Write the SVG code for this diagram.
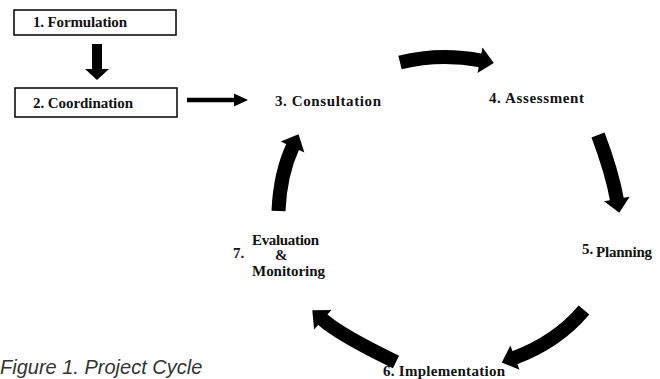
<svg xmlns="http://www.w3.org/2000/svg" width="660" height="379" viewBox="0 0 660 379">
<style>
.box{fill:#fff;stroke:#000;stroke-width:1.5}
.lbl{font-family:"Liberation Serif","Times New Roman",serif;font-weight:bold;font-size:15px;fill:#111}
.arc{fill:none;stroke:#000;stroke-width:14}
.cap{font-family:"Liberation Sans",Arial,sans-serif;font-style:italic;font-size:20px;fill:#333}
</style>
<defs>
<marker id="big" markerUnits="userSpaceOnUse" viewBox="-2 -14 16 28" refX="0" refY="0" markerWidth="16" markerHeight="28" orient="auto" overflow="visible">
<path d="M-1,-13 L13,0 L-1,13 z" fill="#000"/>
</marker>
<marker id="down" markerUnits="userSpaceOnUse" viewBox="-2 -13 13 26" refX="0" refY="0" markerWidth="13" markerHeight="26" orient="auto" overflow="visible">
<path d="M-1,-12 L10,0 L-1,12 z" fill="#000"/>
</marker>
<marker id="thin" markerUnits="userSpaceOnUse" viewBox="-2 -7 16 14" refX="0" refY="0" markerWidth="16" markerHeight="14" orient="auto" overflow="visible">
<path d="M-1,-6.5 L13,0 L-1,6.5 z" fill="#000"/>
</marker>
</defs>
<g id="connectors">
<path d="M97,44 L97,70" stroke="#000" stroke-width="10" fill="none" marker-end="url(#down)"/>
<path d="M187,100 L235,100" stroke="#000" stroke-width="4.5" fill="none" marker-end="url(#thin)"/>
<path class="arc" d="M400,62.5 Q440,52.5 481,60.5" marker-end="url(#big)"/>
<path class="arc" d="M598,135 Q612,172 617,200" marker-end="url(#big)"/>
<path class="arc" d="M584,310 Q557,342 514,358" marker-end="url(#big)"/>
<path class="arc" d="M396,362 Q340,335 322,319" marker-end="url(#big)"/>
<path class="arc" d="M278.5,211 Q280,174 293,146" marker-end="url(#big)"/>
</g>
<g id="n1">
<rect class="box" x="14" y="10" width="162" height="25"/>
<text class="lbl" x="33" y="26.5" textLength="94" lengthAdjust="spacing">1. Formulation</text>
</g>
<g id="n2">
<rect class="box" x="15" y="88" width="162" height="29"/>
<text class="lbl" x="33" y="107.5" textLength="100" lengthAdjust="spacing">2. Coordination</text>
</g>
<g id="n3">
<text class="lbl" x="275" y="106" textLength="106" lengthAdjust="spacing">3. Consultation</text>
</g>
<g id="n4">
<text class="lbl" x="489" y="103" textLength="95" lengthAdjust="spacing">4. Assessment</text>
</g>
<g id="n5">
<text class="lbl"><tspan x="582" y="254">5. </tspan><tspan x="596" y="257" textLength="56" lengthAdjust="spacing">Planning</tspan></text>
</g>
<g id="n6">
<text class="lbl" x="383" y="376" textLength="122" lengthAdjust="spacing">6. Implementation</text>
</g>
<g id="n7">
<text class="lbl" x="233" y="258">7.</text>
<text class="lbl" x="252" y="245" textLength="67" lengthAdjust="spacing">Evaluation</text>
<text class="lbl" x="275" y="260">&amp;</text>
<text class="lbl" x="252" y="276" textLength="73" lengthAdjust="spacing">Monitoring</text>
</g>
<g id="caption">
<text class="cap" x="0" y="374">Figure 1. Project Cycle</text>
</g>
</svg>
